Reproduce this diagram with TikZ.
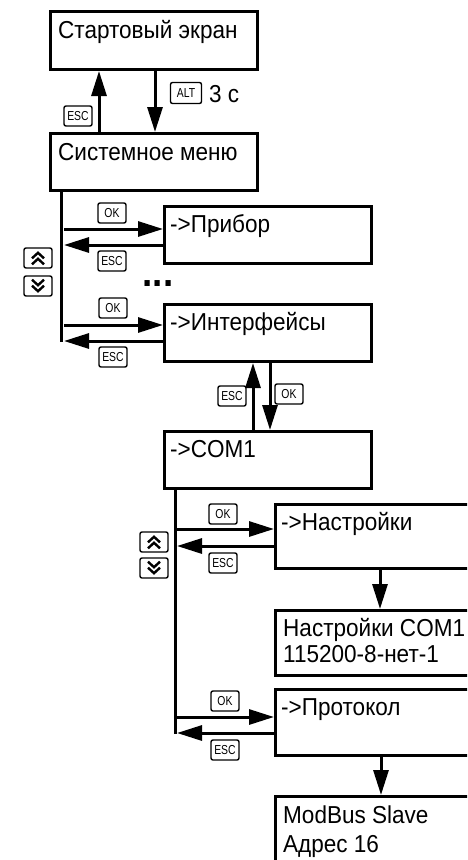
\documentclass[tikz,border=0pt]{standalone}
\usepackage{fontspec}
\setmainfont{Liberation Sans}[FakeStretch=0.92]
\newfontfamily\keyfont{Liberation Sans}[FakeStretch=0.8]
\usetikzlibrary{arrows.meta}
\begin{document}
\begin{tikzpicture}[x=1pt,y=-1pt,
  box/.style={draw, line width=3pt, minimum width=207pt, minimum height=57pt, anchor=north west, inner sep=0pt},
  txt/.style={anchor=base west, inner sep=0pt, font=\fontsize{24.5}{28}\selectfont},
  key/.style={draw, line width=1.4pt, rounded corners=2pt, minimum width=28pt, minimum height=20pt, inner sep=0pt, font=\keyfont\fontsize{13}{13}\selectfont},
  arr/.style={line width=3pt, -{Triangle[length=25pt,width=15pt]}},
  ln/.style={line width=3pt},
  dchevup/.pic={\draw[line width=2.4pt, line join=miter] (-6,0) -- (0,-5.5) -- (6,0) (-6,6) -- (0,0.5) -- (6,6);},
  dchevdown/.pic={\draw[line width=2.4pt, line join=miter] (-6,0) -- (0,5.5) -- (6,0) (-6,-6) -- (0,-0.5) -- (6,-6);}]
\useasboundingbox (0,0) rectangle (467,860);
\clip (0,0) rectangle (467,860);
% boxes
\node[box, minimum height=58pt] (start) at (49,10) {};
\node[box] (sys) at (49,132) {};
\node[box] (pribor) at (163,205) {};
\node[box] (iface) at (163,303) {};
\node[box] (com1) at (163,430) {};
\node[box, minimum height=64pt] (nastr) at (274,503) {};
\node[box, minimum height=65pt] (sett) at (274,609) {};
\node[box, minimum height=66pt] (prot) at (274,688) {};
\node[box, minimum height=67pt] (modbus) at (274,795) {};
% texts
\node[txt] (tstart) at ([shift={(9,28)}]start.north west) {Стартовый экран};
\node[txt] (tsys) at ([shift={(9,28.5)}]sys.north west) {Системное меню};
\node[txt] (tpribor) at ([shift={(7,27)}]pribor.north west) {->Прибор};
\node[txt] (tiface) at ([shift={(7,27)}]iface.north west) {->Интерфейсы};
\node[txt] (tcom1) at ([shift={(7,27)}]com1.north west) {->COM1};
\node[txt] (tnastr) at ([shift={(7,27)}]nastr.north west) {->Настройки};
\node[txt] (tsett1) at ([shift={(9,27)}]sett.north west) {Настройки COM1};
\node[txt] (tsett2) at ([shift={(9,53)}]sett.north west) {115200-8-нет-1};
\node[txt] (tprot) at ([shift={(7,27)}]prot.north west) {->Протокол};
\node[txt] (tmod1) at ([shift={(9,28)}]modbus.north west) {ModBus Slave};
\node[txt] (tmod2) at ([shift={(9,57)}]modbus.north west) {Адрес 16};
% start <-> sys
\coordinate (xa) at (155,0);
\coordinate (xb) at (99,0);
\draw[arr] (start.south -| xa) -- (sys.north -| xa);
\draw[arr] (sys.north -| xb) -- (start.south -| xb);
\node[key, minimum width=31pt, minimum height=21pt] (alt) at (186,93) {ALT};
\node[txt] (tsec) at (209,102) {3 с};
\node[key] (esc0) at (78,116) {ESC};
% system menu branch
\coordinate (v1) at (61,0);
\coordinate (v1end) at (61,342);
\draw[ln] (sys.south -| v1) -- (v1end);
\coordinate (o1) at (64,229);
\coordinate (e1) at (64,245);
\coordinate (o2) at (64,325);
\coordinate (e2) at (64,341);
\draw[arr] (o1) -- (o1 -| pribor.west);
\draw[arr] (e1 -| pribor.west) -- (e1);
\draw[arr] (o2) -- (o2 -| iface.west);
\draw[arr] (e2 -| iface.west) -- (e2);
\node[key] (ok1) at (112,213) {OK};
\node[key] (esc1) at (112,261) {ESC};
\node[key] (ok2) at (113,308) {OK};
\node[key] (esc2) at (113,357) {ESC};
\node[key] (up1) at (38,258) {};
\node[key] (dn1) at (38,286) {};
\pic at ([yshift=-0.3pt]up1.center) {dchevup};
\pic at ([yshift=0.3pt]dn1.center) {dchevdown};
\node[font=\fontsize{40}{40}\selectfont\bfseries, inner sep=0pt] (dots) at (158,284) {...};
% iface <-> com1
\coordinate (xc) at (253,0);
\coordinate (xd) at (270,0);
\draw[arr] (com1.north -| xc) -- (iface.south -| xc);
\draw[arr] (iface.south -| xd) -- (com1.north -| xd);
\node[key] (esc3) at (232,396) {ESC};
\node[key] (ok3) at (289,394) {OK};
% com1 branch
\coordinate (v2) at (175,0);
\coordinate (v2end) at (175,734);
\draw[ln] (com1.south -| v2) -- (v2end);
\coordinate (o3) at (177,529);
\coordinate (e3) at (177,546);
\coordinate (o4) at (177,717);
\coordinate (e4) at (177,733);
\draw[arr] (o3) -- (o3 -| nastr.west);
\draw[arr] (e3 -| nastr.west) -- (e3);
\draw[arr] (o4) -- (o4 -| prot.west);
\draw[arr] (e4 -| prot.west) -- (e4);
\node[key] (ok4) at (223,514) {OK};
\node[key] (esc4) at (223,563) {ESC};
\node[key] (ok5) at (225,701) {OK};
\node[key] (esc5) at (225,750) {ESC};
\node[key] (up2) at (154,542) {};
\node[key] (dn2) at (154,568) {};
\pic at ([yshift=-0.3pt]up2.center) {dchevup};
\pic at ([yshift=0.3pt]dn2.center) {dchevdown};
% down arrows to values
\coordinate (xe) at (380,0);
\coordinate (xf) at (381,0);
\draw[arr] (nastr.south -| xe) -- (sett.north -| xe);
\draw[arr] (prot.south -| xf) -- (modbus.north -| xf);
\end{tikzpicture}
\end{document}
